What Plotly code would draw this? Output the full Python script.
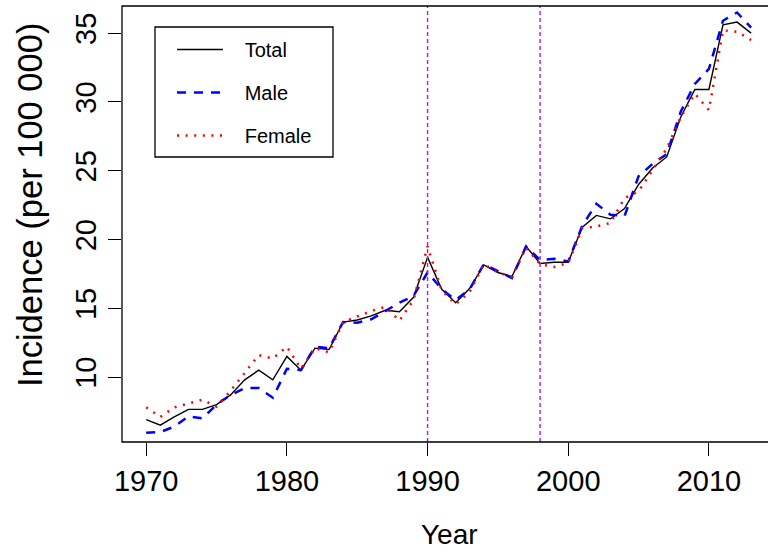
import plotly.graph_objects as go

# ---- data ----
years = list(range(1970, 2014))
total = [6.9, 6.5, 7.1, 7.65, 7.65, 8.0, 8.7, 9.8, 10.5, 9.8,
         11.5, 10.5, 12.1, 12.0, 14.0, 14.15, 14.45, 14.85, 14.75, 15.8,
         18.7, 16.4, 15.4, 16.45, 18.15, 17.6, 17.3, 19.5, 18.25, 18.35,
         18.35, 20.9, 21.75, 21.5, 22.25, 24.0, 25.2, 26.0, 28.9, 30.9,
         30.9, 35.6, 35.8, 35.0]
male = [5.95, 6.0, 6.4, 7.15, 7.0, 8.0, 8.7, 9.2, 9.2, 8.5,
        10.6, 10.5, 12.2, 12.1, 14.0, 13.95, 14.2, 14.8, 15.4, 15.9,
        17.6, 16.4, 15.6, 16.4, 18.2, 17.7, 17.2, 19.5, 18.5, 18.6,
        18.4, 21.0, 22.6, 21.8, 21.7, 24.6, 25.5, 26.2, 29.3, 31.3,
        32.4, 35.9, 36.5, 35.4]
female = [7.8, 7.1, 7.8, 8.1, 8.35, 7.85, 9.0, 10.3, 11.6, 11.35,
          12.2, 10.6, 12.1, 11.8, 14.0, 14.4, 14.8, 15.1, 14.1, 15.6,
          19.5, 16.3, 15.3, 16.2, 18.2, 17.6, 17.3, 19.4, 18.2, 18.0,
          18.3, 20.8, 20.95, 21.2, 23.0, 23.5, 25.1, 26.6, 28.9, 30.6,
          29.4, 35.2, 35.1, 34.5]
series_names = ["Total", "Male", "Female"]
marker_years = [1990, 1998]
x_ticks = [1970, 1980, 1990, 2000, 2010]
y_ticks = [10, 15, 20, 25, 30, 35]

FONT = "Liberation Sans, Arial, Helvetica, sans-serif"
PAD = "\u00a0\u00a0\u00a0"

fig = go.Figure()
fig.add_trace(go.Scatter(x=years, y=total, mode="lines", name=PAD + series_names[0],
                         legendgroup="a",
                         line=dict(color="black", width=1.4)))
fig.add_trace(go.Scatter(x=years, y=male, mode="lines", name=PAD + series_names[1],
                         legendgroup="b",
                         line=dict(color="blue", width=2.5, dash="9px,8px")))
fig.add_trace(go.Scatter(x=years, y=female, mode="lines", name=PAD + series_names[2],
                         legendgroup="c",
                         line=dict(color="red", width=2.5, dash="2px,6.6px")))

for yr in marker_years:
    fig.add_shape(type="line", xref="x", yref="paper", x0=yr, x1=yr, y0=0, y1=1,
                  line=dict(color="#A020F0", width=1.4, dash="4px,3px"))

# plot box (right side falls outside the image, as in the reference)
fig.add_shape(type="rect", xref="paper", yref="paper", x0=0, x1=1.05, y0=0, y1=1,
              line=dict(color="black", width=1.3), fillcolor="rgba(0,0,0,0)", layer="above")
# legend box
fig.add_shape(type="rect", xref="paper", yref="paper",
              x0=(155 - 122) / 646, x1=(333 - 122) / 646,
              y0=(442 - 157) / 436, y1=(442 - 27) / 436,
              line=dict(color="black", width=1.3), fillcolor="rgba(0,0,0,0)", layer="above")

fig.add_annotation(text="Year", xref="paper", yref="paper",
                   x=(449 - 122) / 646, y=(442 - 534) / 436,
                   xanchor="center", yanchor="middle", showarrow=False,
                   font=dict(size=28, color="black", family=FONT))
fig.add_annotation(text="Incidence (per 100 000)", xref="paper", yref="paper",
                   x=(30 - 122) / 646, y=(442 - 205) / 436, textangle=-90,
                   xanchor="center", yanchor="middle", showarrow=False,
                   font=dict(size=34.5, color="black", family=FONT))

fig.update_xaxes(range=[1968.28, 2014.2], tickvals=x_ticks, ticks="outside",
                 ticklen=13, tickwidth=1.3, tickcolor="black",
                 showgrid=False, zeroline=False, showline=False,
                 tickfont=dict(size=29, color="black", family=FONT))
fig.update_yaxes(range=[5.28, 36.97], tickvals=y_ticks, ticks="outside",
                 ticklen=13, tickwidth=1.3, tickcolor="black", tickangle=-90,
                 showgrid=False, zeroline=False, showline=False,
                 tickfont=dict(size=29, color="black", family=FONT))

fig.update_layout(
    width=768, height=551,
    margin=dict(l=122, r=0, t=6, b=109),
    plot_bgcolor="white", paper_bgcolor="white",
    font=dict(family=FONT, color="black"),
    showlegend=True,
    legend=dict(x=(172 - 122) / 646, y=(442 - 30) / 436, xanchor="left", yanchor="top",
                bgcolor="rgba(0,0,0,0)", borderwidth=0,
                font=dict(size=20, color="black", family=FONT),
                traceorder="grouped", tracegroupgap=14, itemwidth=46),
)

fig.write_html("out.html")
